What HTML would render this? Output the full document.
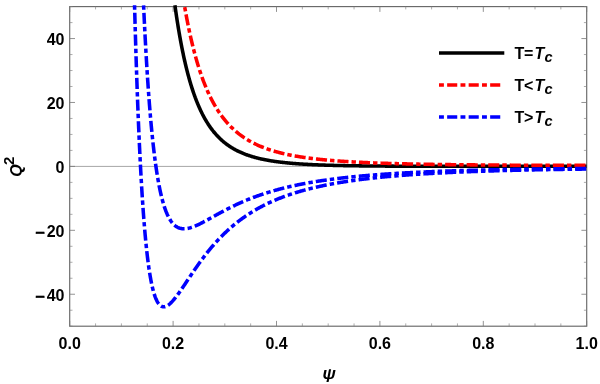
<!DOCTYPE html>
<html><head><meta charset="utf-8"><title>Q2 vs psi</title>
<style>
html,body{margin:0;padding:0;background:#fff;}
body{width:600px;height:384px;overflow:hidden;font-family:"Liberation Sans",sans-serif;}
svg{display:block;will-change:transform;}
text{font-family:"Liberation Sans",sans-serif;font-weight:bold;font-size:16px;fill:#000;}
.i{font-style:italic;}
</style></head><body>
<svg width="600" height="384" viewBox="0 0 600 384">
<rect width="600" height="384" fill="#fff"/>
<defs><clipPath id="cp"><rect x="69.7" y="5.0" width="517.0" height="321.2"/></clipPath><clipPath id="pc"><rect x="315" y="369.2" width="30" height="15"/></clipPath></defs>
<path d="M69.70,166.40L586.70,166.40" stroke="#a6a6a6" stroke-width="1" fill="none"/>
<g fill="none" stroke="#686868" stroke-width="1.15"><rect x="69.7" y="6.6" width="517.0" height="319.59999999999997"/></g>
<path d="M69.70,326.20L69.70,320.90M69.70,6.60L69.70,11.90M173.10,326.20L173.10,320.90M173.10,6.60L173.10,11.90M276.50,326.20L276.50,320.90M276.50,6.60L276.50,11.90M379.90,326.20L379.90,320.90M379.90,6.60L379.90,11.90M483.30,326.20L483.30,320.90M483.30,6.60L483.30,11.90M586.70,326.20L586.70,320.90M586.70,6.60L586.70,11.90M69.70,294.24L75.00,294.24M586.70,294.24L581.40,294.24M69.70,230.32L75.00,230.32M586.70,230.32L581.40,230.32M69.70,166.40L75.00,166.40M586.70,166.40L581.40,166.40M69.70,102.48L75.00,102.48M586.70,102.48L581.40,102.48M69.70,38.56L75.00,38.56M586.70,38.56L581.40,38.56" stroke="#777" stroke-width="0.8" fill="none"/>
<path d="M95.55,326.20L95.55,323.40M95.55,6.60L95.55,9.40M121.40,326.20L121.40,323.40M121.40,6.60L121.40,9.40M147.25,326.20L147.25,323.40M147.25,6.60L147.25,9.40M198.95,326.20L198.95,323.40M198.95,6.60L198.95,9.40M224.80,326.20L224.80,323.40M224.80,6.60L224.80,9.40M250.65,326.20L250.65,323.40M250.65,6.60L250.65,9.40M302.35,326.20L302.35,323.40M302.35,6.60L302.35,9.40M328.20,326.20L328.20,323.40M328.20,6.60L328.20,9.40M354.05,326.20L354.05,323.40M354.05,6.60L354.05,9.40M405.75,326.20L405.75,323.40M405.75,6.60L405.75,9.40M431.60,326.20L431.60,323.40M431.60,6.60L431.60,9.40M457.45,326.20L457.45,323.40M457.45,6.60L457.45,9.40M509.15,326.20L509.15,323.40M509.15,6.60L509.15,9.40M535.00,326.20L535.00,323.40M535.00,6.60L535.00,9.40M560.85,326.20L560.85,323.40M560.85,6.60L560.85,9.40M69.70,326.20L72.50,326.20M586.70,326.20L583.90,326.20M69.70,310.22L72.50,310.22M586.70,310.22L583.90,310.22M69.70,278.26L72.50,278.26M586.70,278.26L583.90,278.26M69.70,262.28L72.50,262.28M586.70,262.28L583.90,262.28M69.70,246.30L72.50,246.30M586.70,246.30L583.90,246.30M69.70,214.34L72.50,214.34M586.70,214.34L583.90,214.34M69.70,198.36L72.50,198.36M586.70,198.36L583.90,198.36M69.70,182.38L72.50,182.38M586.70,182.38L583.90,182.38M69.70,150.42L72.50,150.42M586.70,150.42L583.90,150.42M69.70,134.44L72.50,134.44M586.70,134.44L583.90,134.44M69.70,118.46L72.50,118.46M586.70,118.46L583.90,118.46M69.70,86.50L72.50,86.50M586.70,86.50L583.90,86.50M69.70,70.52L72.50,70.52M586.70,70.52L583.90,70.52M69.70,54.54L72.50,54.54M586.70,54.54L583.90,54.54M69.70,22.58L72.50,22.58M586.70,22.58L583.90,22.58M69.70,6.60L72.50,6.60M586.70,6.60L583.90,6.60" stroke="#808080" stroke-width="0.65" fill="none"/>
<g clip-path="url(#cp)" fill="none" stroke-width="3.55" stroke-linejoin="round">
<path d="M174.92,5.32 L175.05,6.23 L175.21,7.41 L175.38,8.57 L175.54,9.72 L175.70,10.86 L175.87,11.99 L176.03,13.11 L176.19,14.22 L176.36,15.33 L176.52,16.42 L176.69,17.50 L176.85,18.58 L177.01,19.64 L177.18,20.70 L177.34,21.75 L177.50,22.79 L177.67,23.82 L177.83,24.84 L178.00,25.86 L178.16,26.86 L178.32,27.86 L178.49,28.85 L178.65,29.83 L178.81,30.80 L178.98,31.76 L179.14,32.72 L179.31,33.67 L179.47,34.61 L179.63,35.54 L179.80,36.46 L179.96,37.38 L180.12,38.29 L180.29,39.19 L180.45,40.09 L180.61,40.97 L180.78,41.85 L180.94,42.73 L181.11,43.59 L181.27,44.45 L181.43,45.30 L181.60,46.15 L181.76,46.99 L181.92,47.82 L182.09,48.64 L182.25,49.46 L182.42,50.27 L182.58,51.08 L182.74,51.88 L182.91,52.67 L183.07,53.45 L183.23,54.23 L183.40,55.01 L183.56,55.77 L183.73,56.53 L183.89,57.29 L184.05,58.04 L184.22,58.78 L184.38,59.52 L184.54,60.25 L184.71,60.97 L184.87,61.69 L185.04,62.41 L185.20,63.11 L185.36,63.82 L185.53,64.51 L185.69,65.21 L185.85,65.89 L186.02,66.57 L186.18,67.25 L186.35,67.92 L186.51,68.58 L186.67,69.24 L186.84,69.90 L187.00,70.55 L187.16,71.19 L187.33,71.83 L187.49,72.46 L187.66,73.09 L187.82,73.72 L187.98,74.34 L188.15,74.95 L188.31,75.56 L188.47,76.17 L188.64,76.77 L188.80,77.36 L188.97,77.96 L189.13,78.54 L189.29,79.13 L189.46,79.70 L189.70,80.56 L189.95,81.41 L190.19,82.25 L190.44,83.08 L190.69,83.90 L190.93,84.71 L191.18,85.51 L191.42,86.31 L191.67,87.09 L191.91,87.86 L192.16,88.63 L192.40,89.39 L192.65,90.14 L192.90,90.88 L193.14,91.61 L193.39,92.33 L193.63,93.05 L193.88,93.76 L194.12,94.46 L194.37,95.15 L194.62,95.84 L194.86,96.51 L195.11,97.18 L195.35,97.85 L195.60,98.50 L195.84,99.15 L196.09,99.79 L196.33,100.42 L196.58,101.05 L196.83,101.67 L197.07,102.28 L197.32,102.89 L197.56,103.49 L197.81,104.08 L198.05,104.67 L198.30,105.25 L198.54,105.83 L198.79,106.39 L199.04,106.96 L199.28,107.51 L199.53,108.06 L199.85,108.79 L200.18,109.50 L200.51,110.21 L200.84,110.90 L201.16,111.58 L201.49,112.26 L201.82,112.92 L202.15,113.58 L202.47,114.23 L202.80,114.86 L203.13,115.49 L203.46,116.11 L203.78,116.72 L204.11,117.33 L204.44,117.92 L204.77,118.51 L205.09,119.09 L205.42,119.66 L205.75,120.22 L206.08,120.77 L206.40,121.32 L206.73,121.86 L207.06,122.39 L207.39,122.92 L207.71,123.43 L208.04,123.94 L208.37,124.45 L208.78,125.07 L209.19,125.68 L209.60,126.28 L210.01,126.87 L210.42,127.45 L210.83,128.02 L211.24,128.58 L211.64,129.13 L212.05,129.67 L212.46,130.21 L212.87,130.73 L213.28,131.25 L213.69,131.75 L214.10,132.25 L214.51,132.74 L214.92,133.23 L215.33,133.70 L215.74,134.17 L216.15,134.63 L216.56,135.08 L216.97,135.53 L217.46,136.05 L217.95,136.57 L218.44,137.07 L218.93,137.57 L219.42,138.05 L219.91,138.53 L220.40,139.00 L220.90,139.46 L221.39,139.91 L221.88,140.35 L222.37,140.78 L222.86,141.21 L223.35,141.63 L223.84,142.04 L224.33,142.44 L224.83,142.83 L225.32,143.22 L225.81,143.60 L226.30,143.97 L226.79,144.34 L227.28,144.70 L227.77,145.05 L228.26,145.40 L228.84,145.80 L229.41,146.18 L229.98,146.56 L230.56,146.94 L231.13,147.30 L231.70,147.66 L232.28,148.01 L232.85,148.35 L233.42,148.68 L234.00,149.01 L234.57,149.33 L235.14,149.65 L235.71,149.95 L236.29,150.26 L236.86,150.55 L237.43,150.84 L238.01,151.13 L238.58,151.40 L239.15,151.68 L239.73,151.94 L240.30,152.20 L240.87,152.46 L241.45,152.71 L242.02,152.96 L242.59,153.20 L243.17,153.44 L243.74,153.67 L244.31,153.90 L244.88,154.12 L245.46,154.34 L246.03,154.55 L246.60,154.76 L247.18,154.97 L247.75,155.17 L248.32,155.37 L248.90,155.56 L249.47,155.75 L250.04,155.94 L250.62,156.12 L251.19,156.30 L251.84,156.50 L252.50,156.70 L253.15,156.89 L253.81,157.08 L254.46,157.26 L255.12,157.44 L255.77,157.62 L256.43,157.79 L257.08,157.96 L257.74,158.12 L258.39,158.28 L259.05,158.44 L259.70,158.60 L260.36,158.75 L261.01,158.90 L261.67,159.04 L262.32,159.18 L262.98,159.32 L263.63,159.46 L264.29,159.59 L264.94,159.72 L265.60,159.85 L266.25,159.98 L266.91,160.10 L267.56,160.22 L268.22,160.34 L268.87,160.45 L269.53,160.56 L270.18,160.67 L270.84,160.78 L271.49,160.89 L272.15,160.99 L272.80,161.09 L273.46,161.19 L274.11,161.29 L274.77,161.39 L275.42,161.48 L276.08,161.57 L276.73,161.66 L277.39,161.75 L278.04,161.84 L278.70,161.92 L279.35,162.00 L280.01,162.09 L280.66,162.17 L281.32,162.24 L281.97,162.32 L282.63,162.39 L283.28,162.47 L283.94,162.54 L284.59,162.61 L285.25,162.68 L285.90,162.75 L286.56,162.81 L287.21,162.88 L287.87,162.94 L288.52,163.01 L289.18,163.07 L289.83,163.13 L290.49,163.19 L291.14,163.25 L291.80,163.30 L292.45,163.36 L293.11,163.41 L293.76,163.47 L294.42,163.52 L295.07,163.57 L295.73,163.62 L296.38,163.67 L297.04,163.72 L297.69,163.77 L298.35,163.81 L299.00,163.86 L299.66,163.91 L300.31,163.95 L300.97,163.99 L301.62,164.04 L302.28,164.08 L302.93,164.12 L303.59,164.16 L304.24,164.20 L304.90,164.24 L305.55,164.27 L306.21,164.31 L306.86,164.35 L307.52,164.38 L308.17,164.42 L308.83,164.45 L309.48,164.49 L310.14,164.52 L310.79,164.55 L311.45,164.59 L312.10,164.62 L312.76,164.65 L313.41,164.68 L314.07,164.71 L314.72,164.74 L315.38,164.77 L316.03,164.79 L316.69,164.82 L317.34,164.85 L318.00,164.88 L318.65,164.90 L319.31,164.93 L319.96,164.95 L320.62,164.98 L321.27,165.00 L321.93,165.03 L322.58,165.05 L323.24,165.07 L323.89,165.09 L324.55,165.12 L325.20,165.14 L325.86,165.16 L326.51,165.18 L327.17,165.20 L327.82,165.22 L328.48,165.24 L329.13,165.26 L329.79,165.28 L330.44,165.30 L331.10,165.32 L331.75,165.33 L332.41,165.35 L333.06,165.37 L333.72,165.39 L334.37,165.40 L335.03,165.42 L335.68,165.44 L336.34,165.45 L336.99,165.47 L337.65,165.48 L338.30,165.50 L338.96,165.51 L339.61,165.53 L340.27,165.54 L340.92,165.56 L341.58,165.57 L342.23,165.58 L342.89,165.60 L343.54,165.61 L344.20,165.62 L344.85,165.64 L345.51,165.65 L346.16,165.66 L346.82,165.67 L347.47,165.68 L348.13,165.70 L348.78,165.71 L349.44,165.72 L350.09,165.73 L350.74,165.74 L351.40,165.75 L352.05,165.76 L352.71,165.77 L353.36,165.78 L354.02,165.79 L354.67,165.80 L355.33,165.81 L355.98,165.82 L356.64,165.83 L357.29,165.84 L357.95,165.84 L358.60,165.85 L359.26,165.86 L359.91,165.87 L360.57,165.88 L361.22,165.89 L361.88,165.89 L362.53,165.90 L363.19,165.91 L363.84,165.92 L364.50,165.92 L365.15,165.93 L365.81,165.94 L366.46,165.95 L367.12,165.95 L367.77,165.96 L368.43,165.97 L369.08,165.97 L369.74,165.98 L370.39,165.98 L371.05,165.99 L371.70,166.00 L372.36,166.00 L373.01,166.01 L373.67,166.01 L374.32,166.02 L374.98,166.03 L375.63,166.03 L376.29,166.04 L376.94,166.04 L377.60,166.05 L378.25,166.05 L378.91,166.06 L379.56,166.06 L380.22,166.07 L380.87,166.07 L381.53,166.08 L382.18,166.08 L382.84,166.08 L383.49,166.09 L384.15,166.09 L384.80,166.10 L385.46,166.10 L386.11,166.10 L386.77,166.11 L387.42,166.11 L388.08,166.12 L388.73,166.12 L389.39,166.12 L390.04,166.13 L390.70,166.13 L391.35,166.13 L392.01,166.14 L392.66,166.14 L393.32,166.14 L393.97,166.15 L394.63,166.15 L395.28,166.15 L395.94,166.16 L396.59,166.16 L397.25,166.16 L397.90,166.17 L398.56,166.17 L399.21,166.17 L399.87,166.17 L400.52,166.18 L401.18,166.18 L401.83,166.18 L402.49,166.18 L403.14,166.19 L403.80,166.19 L404.45,166.19 L405.11,166.19 L405.76,166.20 L406.42,166.20 L407.07,166.20 L407.73,166.20 L408.38,166.21 L409.04,166.21 L409.69,166.21 L410.35,166.21 L411.00,166.21 L411.66,166.22 L412.31,166.22 L412.97,166.22 L413.62,166.22 L414.28,166.22 L414.93,166.22 L415.59,166.23 L416.24,166.23 L416.90,166.23 L417.55,166.23 L418.21,166.23 L418.86,166.23 L419.52,166.24 L420.17,166.24 L420.83,166.24 L421.48,166.24 L422.14,166.24 L422.79,166.24 L423.45,166.24 L424.10,166.24 L424.76,166.25 L425.41,166.25 L426.07,166.25 L426.72,166.25 L427.38,166.25 L428.03,166.25 L428.69,166.25 L429.34,166.25 L430.00,166.26 L430.65,166.26 L431.31,166.26 L431.96,166.26 L432.62,166.26 L433.27,166.26 L433.93,166.26 L434.58,166.26 L435.24,166.26 L435.89,166.26 L436.55,166.27 L437.20,166.27 L437.86,166.27 L438.51,166.27 L439.17,166.27 L439.82,166.27 L440.48,166.27 L441.13,166.27 L441.79,166.27 L442.44,166.27 L443.10,166.27 L443.75,166.27 L444.41,166.27 L445.06,166.27 L445.72,166.28 L446.37,166.28 L447.03,166.28 L447.68,166.28 L448.34,166.28 L448.99,166.28 L449.65,166.28 L450.30,166.28 L450.96,166.28 L451.61,166.28 L452.27,166.28 L452.92,166.28 L453.58,166.28 L454.23,166.28 L454.89,166.28 L455.54,166.28 L456.20,166.28 L456.85,166.28 L457.51,166.28 L458.16,166.28 L458.82,166.28 L459.47,166.29 L460.13,166.29 L460.78,166.29 L461.44,166.29 L462.09,166.29 L462.75,166.29 L463.40,166.29 L464.06,166.29 L464.71,166.29 L465.37,166.29 L466.02,166.29 L466.68,166.29 L467.33,166.29 L467.99,166.29 L468.64,166.29 L469.30,166.29 L469.95,166.29 L470.61,166.29 L471.26,166.29 L471.92,166.29 L472.57,166.29 L473.23,166.29 L473.88,166.29 L474.54,166.29 L475.19,166.29 L475.85,166.29 L476.50,166.29 L477.16,166.29 L477.81,166.29 L478.47,166.29 L479.12,166.29 L479.78,166.29 L480.43,166.29 L481.09,166.29 L481.74,166.29 L482.40,166.29 L483.05,166.29 L483.71,166.29 L484.36,166.29 L485.02,166.29 L485.67,166.29 L486.32,166.29 L486.98,166.29 L487.63,166.29 L488.29,166.29 L488.94,166.29 L489.60,166.29 L490.25,166.29 L490.91,166.29 L491.56,166.29 L492.22,166.29 L492.87,166.29 L493.53,166.29 L494.18,166.29 L494.84,166.29 L495.49,166.29 L496.15,166.29 L496.80,166.29 L497.46,166.29 L498.11,166.29 L498.77,166.29 L499.42,166.29 L500.08,166.29 L500.73,166.29 L501.39,166.29 L502.04,166.29 L502.70,166.29 L503.35,166.29 L504.01,166.29 L504.66,166.29 L505.32,166.29 L505.97,166.29 L506.63,166.29 L507.28,166.29 L507.94,166.29 L508.59,166.29 L509.25,166.29 L509.90,166.29 L510.56,166.29 L511.21,166.29 L511.87,166.29 L512.52,166.29 L513.18,166.29 L513.83,166.29 L514.49,166.29 L515.14,166.29 L515.80,166.29 L516.45,166.29 L517.11,166.29 L517.76,166.29 L518.42,166.29 L519.07,166.29 L519.73,166.29 L520.38,166.29 L521.04,166.29 L521.69,166.29 L522.35,166.29 L523.00,166.29 L523.66,166.29 L524.31,166.29 L524.97,166.29 L525.62,166.29 L526.28,166.29 L526.93,166.29 L527.59,166.29 L528.24,166.29 L528.90,166.29 L529.55,166.29 L530.21,166.29 L530.86,166.29 L531.52,166.29 L532.17,166.29 L532.83,166.29 L533.48,166.29 L534.14,166.29 L534.79,166.29 L535.45,166.29 L536.10,166.29 L536.76,166.29 L537.41,166.29 L538.07,166.29 L538.72,166.29 L539.38,166.29 L540.03,166.29 L540.69,166.29 L541.34,166.29 L542.00,166.29 L542.65,166.28 L543.31,166.28 L543.96,166.28 L544.62,166.28 L545.27,166.28 L545.93,166.28 L546.58,166.28 L547.24,166.28 L547.89,166.28 L548.55,166.28 L549.20,166.28 L549.86,166.28 L550.51,166.28 L551.17,166.28 L551.82,166.28 L552.48,166.28 L553.13,166.28 L553.79,166.28 L554.44,166.28 L555.10,166.28 L555.75,166.28 L556.41,166.28 L557.06,166.28 L557.72,166.28 L558.37,166.28 L559.03,166.28 L559.68,166.28 L560.34,166.28 L560.99,166.28 L561.65,166.28 L562.30,166.28 L562.96,166.28 L563.61,166.28 L564.27,166.28 L564.92,166.28 L565.58,166.28 L566.23,166.28 L566.89,166.28 L567.54,166.28 L568.20,166.28 L568.85,166.28 L569.51,166.28 L570.16,166.28 L570.82,166.28 L571.47,166.28 L572.13,166.28 L572.78,166.28 L573.44,166.28 L574.09,166.28 L574.75,166.28 L575.40,166.28 L576.06,166.28 L576.71,166.28 L577.37,166.28 L578.02,166.28 L578.68,166.28 L579.33,166.28 L579.99,166.28 L580.64,166.28 L581.30,166.28 L581.95,166.28 L582.61,166.28 L583.26,166.28 L583.92,166.28 L584.57,166.28 L585.23,166.28 L585.88,166.28 L586.54,166.28 L586.70,166.28" stroke="#000"/>
<path d="M184.41,5.32 L184.54,6.12 L184.71,7.07 L184.87,8.00 L185.04,8.93 L185.20,9.86 L185.36,10.77 L185.53,11.68 L185.69,12.59 L185.85,13.48 L186.02,14.37 L186.18,15.26 L186.35,16.13 L186.51,17.00 L186.67,17.87 L186.84,18.73 L187.00,19.58 L187.16,20.43 L187.33,21.27 L187.49,22.10 L187.66,22.93 L187.82,23.75 L187.98,24.57 L188.15,25.38 L188.31,26.18 L188.47,26.98 L188.64,27.77 L188.80,28.56 L188.97,29.34 L189.13,30.12 L189.29,30.89 L189.46,31.66 L189.62,32.42 L189.78,33.17 L189.95,33.92 L190.11,34.67 L190.28,35.40 L190.44,36.14 L190.60,36.87 L190.77,37.59 L190.93,38.31 L191.09,39.02 L191.26,39.73 L191.42,40.44 L191.59,41.14 L191.75,41.83 L191.91,42.52 L192.08,43.20 L192.24,43.88 L192.40,44.56 L192.57,45.23 L192.73,45.90 L192.90,46.56 L193.06,47.21 L193.22,47.87 L193.39,48.52 L193.55,49.16 L193.71,49.80 L193.88,50.43 L194.04,51.06 L194.21,51.69 L194.37,52.31 L194.53,52.93 L194.70,53.54 L194.86,54.15 L195.02,54.76 L195.19,55.36 L195.35,55.96 L195.52,56.55 L195.68,57.14 L195.84,57.73 L196.01,58.31 L196.17,58.88 L196.42,59.74 L196.66,60.59 L196.91,61.44 L197.15,62.27 L197.40,63.10 L197.64,63.91 L197.89,64.72 L198.14,65.52 L198.38,66.32 L198.63,67.10 L198.87,67.88 L199.12,68.65 L199.36,69.41 L199.61,70.17 L199.85,70.92 L200.10,71.66 L200.35,72.39 L200.59,73.12 L200.84,73.84 L201.08,74.55 L201.33,75.26 L201.57,75.96 L201.82,76.65 L202.07,77.34 L202.31,78.01 L202.56,78.69 L202.80,79.35 L203.05,80.01 L203.29,80.67 L203.54,81.31 L203.78,81.96 L204.03,82.59 L204.28,83.22 L204.52,83.84 L204.77,84.46 L205.01,85.07 L205.26,85.68 L205.50,86.28 L205.75,86.88 L206.00,87.47 L206.24,88.05 L206.49,88.63 L206.73,89.20 L206.98,89.77 L207.22,90.33 L207.47,90.89 L207.71,91.44 L208.04,92.17 L208.37,92.89 L208.70,93.60 L209.02,94.30 L209.35,95.00 L209.68,95.68 L210.01,96.36 L210.33,97.03 L210.66,97.69 L210.99,98.34 L211.32,98.99 L211.64,99.63 L211.97,100.26 L212.30,100.88 L212.63,101.50 L212.95,102.10 L213.28,102.71 L213.61,103.30 L213.94,103.89 L214.26,104.47 L214.59,105.04 L214.92,105.61 L215.25,106.17 L215.57,106.72 L215.90,107.27 L216.23,107.81 L216.56,108.35 L216.88,108.87 L217.21,109.40 L217.54,109.91 L217.87,110.42 L218.19,110.93 L218.60,111.55 L219.01,112.17 L219.42,112.77 L219.83,113.37 L220.24,113.96 L220.65,114.54 L221.06,115.11 L221.47,115.68 L221.88,116.23 L222.29,116.78 L222.70,117.33 L223.11,117.86 L223.52,118.39 L223.93,118.91 L224.33,119.42 L224.74,119.92 L225.15,120.42 L225.56,120.91 L225.97,121.40 L226.38,121.88 L226.79,122.35 L227.20,122.82 L227.61,123.28 L228.02,123.73 L228.43,124.18 L228.84,124.62 L229.33,125.14 L229.82,125.66 L230.31,126.16 L230.80,126.66 L231.29,127.15 L231.78,127.63 L232.28,128.11 L232.77,128.58 L233.26,129.04 L233.75,129.49 L234.24,129.94 L234.73,130.38 L235.22,130.81 L235.71,131.24 L236.21,131.66 L236.70,132.07 L237.19,132.48 L237.68,132.88 L238.17,133.27 L238.66,133.66 L239.15,134.05 L239.64,134.42 L240.14,134.80 L240.63,135.16 L241.12,135.52 L241.61,135.88 L242.10,136.23 L242.59,136.58 L243.17,136.97 L243.74,137.36 L244.31,137.75 L244.88,138.12 L245.46,138.49 L246.03,138.86 L246.60,139.22 L247.18,139.57 L247.75,139.92 L248.32,140.26 L248.90,140.59 L249.47,140.92 L250.04,141.25 L250.62,141.57 L251.19,141.88 L251.76,142.19 L252.33,142.49 L252.91,142.79 L253.48,143.09 L254.05,143.38 L254.63,143.66 L255.20,143.94 L255.77,144.22 L256.35,144.49 L256.92,144.76 L257.49,145.02 L258.07,145.28 L258.64,145.53 L259.21,145.78 L259.79,146.03 L260.36,146.28 L260.93,146.51 L261.50,146.75 L262.08,146.98 L262.65,147.21 L263.22,147.44 L263.80,147.66 L264.37,147.88 L264.94,148.09 L265.52,148.31 L266.09,148.51 L266.66,148.72 L267.24,148.92 L267.81,149.12 L268.38,149.32 L268.95,149.51 L269.53,149.70 L270.10,149.89 L270.67,150.08 L271.25,150.26 L271.82,150.44 L272.48,150.64 L273.13,150.84 L273.79,151.04 L274.44,151.23 L275.10,151.42 L275.75,151.61 L276.41,151.79 L277.06,151.97 L277.72,152.15 L278.37,152.32 L279.03,152.49 L279.68,152.66 L280.34,152.83 L280.99,152.99 L281.65,153.16 L282.30,153.31 L282.95,153.47 L283.61,153.62 L284.26,153.78 L284.92,153.92 L285.57,154.07 L286.23,154.22 L286.88,154.36 L287.54,154.50 L288.19,154.64 L288.85,154.77 L289.50,154.90 L290.16,155.04 L290.81,155.17 L291.47,155.29 L292.12,155.42 L292.78,155.54 L293.43,155.67 L294.09,155.79 L294.74,155.90 L295.40,156.02 L296.05,156.14 L296.71,156.25 L297.36,156.36 L298.02,156.47 L298.67,156.58 L299.33,156.69 L299.98,156.79 L300.64,156.90 L301.29,157.00 L301.95,157.10 L302.60,157.20 L303.26,157.30 L303.91,157.39 L304.57,157.49 L305.22,157.58 L305.88,157.67 L306.53,157.76 L307.19,157.85 L307.84,157.94 L308.50,158.03 L309.15,158.12 L309.81,158.20 L310.46,158.29 L311.12,158.37 L311.77,158.45 L312.43,158.53 L313.08,158.61 L313.74,158.69 L314.39,158.76 L315.05,158.84 L315.70,158.92 L316.36,158.99 L317.01,159.06 L317.67,159.13 L318.32,159.21 L318.98,159.28 L319.63,159.35 L320.29,159.41 L320.94,159.48 L321.60,159.55 L322.25,159.61 L322.91,159.68 L323.56,159.74 L324.22,159.81 L324.87,159.87 L325.53,159.93 L326.18,159.99 L326.84,160.05 L327.49,160.11 L328.15,160.17 L328.80,160.22 L329.46,160.28 L330.11,160.34 L330.77,160.39 L331.42,160.45 L332.08,160.50 L332.73,160.56 L333.39,160.61 L334.04,160.66 L334.70,160.71 L335.35,160.76 L336.01,160.81 L336.66,160.86 L337.32,160.91 L337.97,160.96 L338.63,161.01 L339.28,161.05 L339.94,161.10 L340.59,161.15 L341.25,161.19 L341.90,161.24 L342.56,161.28 L343.21,161.32 L343.87,161.37 L344.52,161.41 L345.18,161.45 L345.83,161.49 L346.49,161.54 L347.14,161.58 L347.80,161.62 L348.45,161.66 L349.11,161.70 L349.76,161.73 L350.42,161.77 L351.07,161.81 L351.73,161.85 L352.38,161.89 L353.04,161.92 L353.69,161.96 L354.35,161.99 L355.00,162.03 L355.66,162.06 L356.31,162.10 L356.97,162.13 L357.62,162.17 L358.28,162.20 L358.93,162.23 L359.59,162.27 L360.24,162.30 L360.90,162.33 L361.55,162.36 L362.21,162.39 L362.86,162.42 L363.52,162.45 L364.17,162.48 L364.83,162.51 L365.48,162.54 L366.14,162.57 L366.79,162.60 L367.45,162.63 L368.10,162.66 L368.76,162.69 L369.41,162.71 L370.07,162.74 L370.72,162.77 L371.38,162.79 L372.03,162.82 L372.69,162.85 L373.34,162.87 L374.00,162.90 L374.65,162.92 L375.31,162.95 L375.96,162.97 L376.62,163.00 L377.27,163.02 L377.93,163.04 L378.58,163.07 L379.24,163.09 L379.89,163.12 L380.55,163.14 L381.20,163.16 L381.86,163.18 L382.51,163.21 L383.17,163.23 L383.82,163.25 L384.48,163.27 L385.13,163.29 L385.79,163.31 L386.44,163.33 L387.10,163.35 L387.75,163.37 L388.41,163.40 L389.06,163.42 L389.72,163.44 L390.37,163.45 L391.03,163.47 L391.68,163.49 L392.34,163.51 L392.99,163.53 L393.65,163.55 L394.30,163.57 L394.96,163.59 L395.61,163.60 L396.27,163.62 L396.92,163.64 L397.58,163.66 L398.23,163.67 L398.89,163.69 L399.54,163.71 L400.20,163.73 L400.85,163.74 L401.51,163.76 L402.16,163.78 L402.82,163.79 L403.47,163.81 L404.13,163.82 L404.78,163.84 L405.44,163.85 L406.09,163.87 L406.75,163.89 L407.40,163.90 L408.06,163.92 L408.71,163.93 L409.37,163.95 L410.02,163.96 L410.68,163.97 L411.33,163.99 L411.99,164.00 L412.64,164.02 L413.30,164.03 L413.95,164.04 L414.61,164.06 L415.26,164.07 L415.92,164.08 L416.57,164.10 L417.23,164.11 L417.88,164.12 L418.53,164.14 L419.19,164.15 L419.84,164.16 L420.50,164.17 L421.15,164.19 L421.81,164.20 L422.46,164.21 L423.12,164.22 L423.77,164.23 L424.43,164.25 L425.08,164.26 L425.74,164.27 L426.39,164.28 L427.05,164.29 L427.70,164.30 L428.36,164.31 L429.01,164.33 L429.67,164.34 L430.32,164.35 L430.98,164.36 L431.63,164.37 L432.29,164.38 L432.94,164.39 L433.60,164.40 L434.25,164.41 L434.91,164.42 L435.56,164.43 L436.22,164.44 L436.87,164.45 L437.53,164.46 L438.18,164.47 L438.84,164.48 L439.49,164.49 L440.15,164.50 L440.80,164.51 L441.46,164.52 L442.11,164.53 L442.77,164.54 L443.42,164.54 L444.08,164.55 L444.73,164.56 L445.39,164.57 L446.04,164.58 L446.70,164.59 L447.35,164.60 L448.01,164.61 L448.66,164.61 L449.32,164.62 L449.97,164.63 L450.63,164.64 L451.28,164.65 L451.94,164.65 L452.59,164.66 L453.25,164.67 L453.90,164.68 L454.56,164.69 L455.21,164.69 L455.87,164.70 L456.52,164.71 L457.18,164.72 L457.83,164.72 L458.49,164.73 L459.14,164.74 L459.80,164.75 L460.45,164.75 L461.11,164.76 L461.76,164.77 L462.42,164.77 L463.07,164.78 L463.73,164.79 L464.38,164.79 L465.04,164.80 L465.69,164.81 L466.35,164.81 L467.00,164.82 L467.66,164.83 L468.31,164.83 L468.97,164.84 L469.62,164.85 L470.28,164.85 L470.93,164.86 L471.59,164.86 L472.24,164.87 L472.90,164.88 L473.55,164.88 L474.21,164.89 L474.86,164.89 L475.52,164.90 L476.17,164.91 L476.83,164.91 L477.48,164.92 L478.14,164.92 L478.79,164.93 L479.45,164.93 L480.10,164.94 L480.76,164.94 L481.41,164.95 L482.07,164.96 L482.72,164.96 L483.38,164.97 L484.03,164.97 L484.69,164.98 L485.34,164.98 L486.00,164.99 L486.65,164.99 L487.31,165.00 L487.96,165.00 L488.62,165.01 L489.27,165.01 L489.93,165.02 L490.58,165.02 L491.24,165.03 L491.89,165.03 L492.55,165.03 L493.20,165.04 L493.86,165.04 L494.51,165.05 L495.17,165.05 L495.82,165.06 L496.48,165.06 L497.13,165.07 L497.79,165.07 L498.44,165.07 L499.10,165.08 L499.75,165.08 L500.41,165.09 L501.06,165.09 L501.72,165.10 L502.37,165.10 L503.03,165.10 L503.68,165.11 L504.34,165.11 L504.99,165.11 L505.65,165.12 L506.30,165.12 L506.96,165.13 L507.61,165.13 L508.27,165.13 L508.92,165.14 L509.58,165.14 L510.23,165.14 L510.89,165.15 L511.54,165.15 L512.20,165.16 L512.85,165.16 L513.51,165.16 L514.16,165.17 L514.82,165.17 L515.47,165.17 L516.13,165.18 L516.78,165.18 L517.44,165.18 L518.09,165.19 L518.75,165.19 L519.40,165.19 L520.06,165.19 L520.71,165.20 L521.37,165.20 L522.02,165.20 L522.68,165.21 L523.33,165.21 L523.99,165.21 L524.64,165.22 L525.30,165.22 L525.95,165.22 L526.61,165.22 L527.26,165.23 L527.92,165.23 L528.57,165.23 L529.23,165.24 L529.88,165.24 L530.54,165.24 L531.19,165.24 L531.85,165.25 L532.50,165.25 L533.16,165.25 L533.81,165.25 L534.47,165.26 L535.12,165.26 L535.78,165.26 L536.43,165.26 L537.09,165.27 L537.74,165.27 L538.40,165.27 L539.05,165.27 L539.71,165.28 L540.36,165.28 L541.02,165.28 L541.67,165.28 L542.33,165.28 L542.98,165.29 L543.64,165.29 L544.29,165.29 L544.95,165.29 L545.60,165.30 L546.26,165.30 L546.91,165.30 L547.57,165.30 L548.22,165.30 L548.88,165.31 L549.53,165.31 L550.19,165.31 L550.84,165.31 L551.50,165.31 L552.15,165.31 L552.81,165.32 L553.46,165.32 L554.11,165.32 L554.77,165.32 L555.42,165.32 L556.08,165.33 L556.73,165.33 L557.39,165.33 L558.04,165.33 L558.70,165.33 L559.35,165.33 L560.01,165.34 L560.66,165.34 L561.32,165.34 L561.97,165.34 L562.63,165.34 L563.28,165.34 L563.94,165.34 L564.59,165.35 L565.25,165.35 L565.90,165.35 L566.56,165.35 L567.21,165.35 L567.87,165.35 L568.52,165.35 L569.18,165.36 L569.83,165.36 L570.49,165.36 L571.14,165.36 L571.80,165.36 L572.45,165.36 L573.11,165.36 L573.76,165.36 L574.42,165.37 L575.07,165.37 L575.73,165.37 L576.38,165.37 L577.04,165.37 L577.69,165.37 L578.35,165.37 L579.00,165.37 L579.66,165.37 L580.31,165.37 L580.97,165.38 L581.62,165.38 L582.28,165.38 L582.93,165.38 L583.59,165.38 L584.24,165.38 L584.90,165.38 L585.55,165.38 L586.21,165.38 L586.70,165.38" stroke="#ff0000" stroke-dasharray="4.4 3.025 11.1 3.025" stroke-dashoffset="-1.8"/>
<path d="M134.56,5.32 L134.60,7.09 L134.68,10.10 L134.77,13.08 L134.85,16.03 L134.93,18.96 L135.01,21.86 L135.09,24.73 L135.18,27.58 L135.26,30.40 L135.34,33.20 L135.42,35.97 L135.50,38.72 L135.59,41.44 L135.67,44.13 L135.75,46.80 L135.83,49.45 L135.91,52.07 L135.99,54.67 L136.08,57.25 L136.16,59.80 L136.24,62.33 L136.32,64.83 L136.40,67.31 L136.49,69.77 L136.57,72.21 L136.65,74.63 L136.73,77.02 L136.81,79.39 L136.90,81.74 L136.98,84.07 L137.06,86.37 L137.14,88.66 L137.22,90.93 L137.30,93.17 L137.39,95.39 L137.47,97.60 L137.55,99.78 L137.63,101.94 L137.71,104.09 L137.80,106.21 L137.88,108.32 L137.96,110.40 L138.04,112.47 L138.12,114.51 L138.21,116.54 L138.29,118.55 L138.37,120.54 L138.45,122.52 L138.53,124.47 L138.61,126.41 L138.70,128.33 L138.78,130.23 L138.86,132.12 L138.94,133.98 L139.02,135.83 L139.11,137.67 L139.19,139.48 L139.27,141.28 L139.35,143.06 L139.43,144.83 L139.52,146.58 L139.60,148.31 L139.68,150.03 L139.76,151.73 L139.84,153.42 L139.92,155.09 L140.01,156.74 L140.09,158.38 L140.17,160.01 L140.25,161.62 L140.33,163.21 L140.42,164.79 L140.50,166.36 L140.58,167.91 L140.66,169.44 L140.74,170.97 L140.83,172.47 L140.91,173.97 L140.99,175.45 L141.07,176.91 L141.15,178.36 L141.23,179.80 L141.32,181.23 L141.40,182.64 L141.48,184.04 L141.56,185.42 L141.64,186.80 L141.73,188.16 L141.81,189.50 L141.89,190.84 L141.97,192.16 L142.05,193.47 L142.14,194.77 L142.22,196.05 L142.30,197.32 L142.38,198.58 L142.46,199.83 L142.54,201.07 L142.63,202.30 L142.71,203.51 L142.79,204.71 L142.87,205.90 L142.95,207.08 L143.04,208.25 L143.12,209.41 L143.20,210.55 L143.28,211.69 L143.36,212.81 L143.45,213.93 L143.53,215.03 L143.61,216.12 L143.69,217.20 L143.77,218.27 L143.85,219.34 L143.94,220.39 L144.02,221.43 L144.10,222.46 L144.18,223.48 L144.26,224.49 L144.35,225.49 L144.43,226.48 L144.51,227.47 L144.59,228.44 L144.67,229.40 L144.76,230.35 L144.84,231.30 L144.92,232.23 L145.00,233.16 L145.08,234.08 L145.16,234.98 L145.25,235.88 L145.33,236.77 L145.41,237.65 L145.49,238.53 L145.57,239.39 L145.66,240.25 L145.74,241.09 L145.82,241.93 L145.90,242.76 L145.98,243.59 L146.07,244.40 L146.15,245.20 L146.23,246.00 L146.31,246.79 L146.39,247.57 L146.47,248.35 L146.56,249.11 L146.64,249.87 L146.72,250.62 L146.80,251.37 L146.88,252.10 L146.97,252.83 L147.05,253.55 L147.13,254.27 L147.21,254.97 L147.29,255.67 L147.37,256.36 L147.46,257.05 L147.54,257.73 L147.62,258.40 L147.70,259.06 L147.78,259.72 L147.87,260.37 L147.95,261.01 L148.03,261.65 L148.11,262.28 L148.19,262.90 L148.28,263.52 L148.36,264.13 L148.44,264.73 L148.52,265.33 L148.68,266.51 L148.85,267.66 L149.01,268.79 L149.18,269.89 L149.34,270.97 L149.50,272.03 L149.67,273.06 L149.83,274.08 L149.99,275.07 L150.16,276.03 L150.32,276.98 L150.49,277.91 L150.65,278.81 L150.81,279.70 L150.98,280.56 L151.14,281.41 L151.30,282.23 L151.47,283.04 L151.63,283.83 L151.80,284.60 L151.96,285.35 L152.12,286.08 L152.29,286.80 L152.45,287.50 L152.61,288.18 L152.78,288.85 L152.94,289.49 L153.11,290.13 L153.27,290.75 L153.43,291.35 L153.60,291.93 L153.84,292.79 L154.09,293.61 L154.33,294.39 L154.58,295.15 L154.83,295.87 L155.07,296.57 L155.32,297.23 L155.56,297.87 L155.81,298.48 L156.05,299.06 L156.30,299.62 L156.63,300.32 L156.95,300.98 L157.28,301.59 L157.61,302.17 L157.94,302.70 L158.35,303.31 L158.76,303.87 L159.16,304.37 L159.57,304.82 L160.07,305.28 L160.56,305.68 L161.13,306.06 L161.70,306.36 L162.28,306.58 L162.93,306.73 L163.59,306.80 L164.24,306.77 L164.90,306.67 L165.55,306.49 L166.12,306.28 L166.70,306.02 L167.27,305.71 L167.84,305.36 L168.42,304.97 L168.91,304.60 L169.40,304.20 L169.89,303.78 L170.38,303.34 L170.87,302.87 L171.36,302.39 L171.85,301.88 L172.35,301.35 L172.76,300.90 L173.16,300.44 L173.57,299.96 L173.98,299.48 L174.39,298.98 L174.80,298.48 L175.21,297.97 L175.62,297.45 L176.03,296.92 L176.44,296.38 L176.85,295.84 L177.26,295.29 L177.67,294.73 L178.08,294.17 L178.49,293.60 L178.90,293.03 L179.31,292.45 L179.71,291.87 L180.12,291.28 L180.53,290.69 L180.94,290.10 L181.35,289.51 L181.76,288.91 L182.17,288.31 L182.58,287.70 L182.99,287.10 L183.40,286.49 L183.81,285.88 L184.22,285.27 L184.63,284.66 L185.04,284.04 L185.45,283.43 L185.85,282.82 L186.26,282.20 L186.67,281.59 L187.08,280.97 L187.49,280.36 L187.90,279.74 L188.31,279.13 L188.72,278.51 L189.13,277.90 L189.54,277.29 L189.95,276.67 L190.36,276.06 L190.77,275.45 L191.18,274.84 L191.59,274.24 L192.00,273.63 L192.40,273.03 L192.81,272.42 L193.22,271.82 L193.63,271.22 L194.04,270.62 L194.45,270.03 L194.86,269.43 L195.27,268.84 L195.68,268.25 L196.09,267.66 L196.50,267.07 L196.91,266.49 L197.32,265.91 L197.73,265.33 L198.14,264.75 L198.54,264.18 L198.95,263.60 L199.36,263.04 L199.77,262.47 L200.18,261.90 L200.59,261.34 L201.00,260.78 L201.41,260.22 L201.82,259.67 L202.23,259.12 L202.64,258.57 L203.05,258.02 L203.46,257.48 L203.87,256.94 L204.28,256.40 L204.69,255.87 L205.09,255.34 L205.50,254.81 L205.91,254.28 L206.32,253.76 L206.73,253.24 L207.14,252.72 L207.55,252.21 L207.96,251.69 L208.37,251.18 L208.78,250.68 L209.19,250.17 L209.60,249.67 L210.01,249.18 L210.42,248.68 L210.83,248.19 L211.24,247.70 L211.64,247.22 L212.05,246.73 L212.46,246.25 L212.87,245.78 L213.28,245.30 L213.69,244.83 L214.10,244.36 L214.51,243.90 L214.92,243.44 L215.33,242.98 L215.74,242.52 L216.15,242.07 L216.56,241.62 L216.97,241.17 L217.38,240.72 L217.78,240.28 L218.19,239.84 L218.69,239.32 L219.18,238.80 L219.67,238.28 L220.16,237.77 L220.65,237.26 L221.14,236.76 L221.63,236.26 L222.12,235.76 L222.62,235.27 L223.11,234.78 L223.60,234.29 L224.09,233.81 L224.58,233.34 L225.07,232.86 L225.56,232.39 L226.05,231.93 L226.55,231.47 L227.04,231.01 L227.53,230.55 L228.02,230.10 L228.51,229.65 L229.00,229.21 L229.49,228.77 L229.98,228.33 L230.48,227.90 L230.97,227.47 L231.46,227.04 L231.95,226.62 L232.44,226.20 L232.93,225.79 L233.42,225.37 L233.91,224.96 L234.40,224.56 L234.90,224.16 L235.39,223.76 L235.88,223.36 L236.37,222.97 L236.86,222.58 L237.35,222.19 L237.84,221.81 L238.33,221.43 L238.83,221.05 L239.32,220.67 L239.81,220.30 L240.30,219.94 L240.79,219.57 L241.28,219.21 L241.77,218.85 L242.26,218.49 L242.76,218.14 L243.25,217.79 L243.74,217.44 L244.23,217.10 L244.80,216.70 L245.38,216.30 L245.95,215.91 L246.52,215.52 L247.10,215.14 L247.67,214.76 L248.24,214.38 L248.81,214.01 L249.39,213.64 L249.96,213.27 L250.53,212.91 L251.11,212.55 L251.68,212.19 L252.25,211.84 L252.83,211.49 L253.40,211.14 L253.97,210.80 L254.55,210.46 L255.12,210.12 L255.69,209.79 L256.26,209.46 L256.84,209.13 L257.41,208.81 L257.98,208.49 L258.56,208.17 L259.13,207.85 L259.70,207.54 L260.28,207.23 L260.85,206.93 L261.42,206.62 L262.00,206.32 L262.57,206.02 L263.14,205.73 L263.72,205.44 L264.29,205.15 L264.86,204.86 L265.43,204.57 L266.01,204.29 L266.58,204.01 L267.15,203.73 L267.73,203.46 L268.30,203.19 L268.87,202.92 L269.45,202.65 L270.02,202.39 L270.59,202.13 L271.17,201.87 L271.74,201.61 L272.31,201.35 L272.88,201.10 L273.46,200.85 L274.03,200.60 L274.60,200.36 L275.18,200.11 L275.75,199.87 L276.32,199.63 L276.90,199.39 L277.47,199.16 L278.04,198.92 L278.62,198.69 L279.19,198.46 L279.76,198.24 L280.34,198.01 L280.91,197.79 L281.48,197.57 L282.05,197.35 L282.63,197.13 L283.20,196.92 L283.77,196.70 L284.35,196.49 L284.92,196.28 L285.49,196.07 L286.07,195.87 L286.64,195.66 L287.21,195.46 L287.79,195.26 L288.36,195.06 L288.93,194.87 L289.50,194.67 L290.08,194.48 L290.65,194.28 L291.22,194.09 L291.80,193.91 L292.37,193.72 L292.94,193.53 L293.52,193.35 L294.09,193.17 L294.66,192.99 L295.24,192.81 L295.81,192.63 L296.46,192.43 L297.12,192.23 L297.77,192.03 L298.43,191.83 L299.08,191.64 L299.74,191.45 L300.39,191.26 L301.05,191.07 L301.70,190.89 L302.36,190.70 L303.01,190.52 L303.67,190.34 L304.32,190.16 L304.98,189.98 L305.63,189.80 L306.29,189.63 L306.94,189.46 L307.60,189.29 L308.25,189.12 L308.91,188.95 L309.56,188.78 L310.22,188.62 L310.87,188.46 L311.53,188.29 L312.18,188.13 L312.84,187.98 L313.49,187.82 L314.15,187.66 L314.80,187.51 L315.46,187.36 L316.11,187.20 L316.77,187.05 L317.42,186.91 L318.08,186.76 L318.73,186.61 L319.39,186.47 L320.04,186.32 L320.70,186.18 L321.35,186.04 L322.01,185.90 L322.66,185.76 L323.32,185.63 L323.97,185.49 L324.63,185.36 L325.28,185.22 L325.94,185.09 L326.59,184.96 L327.25,184.83 L327.90,184.70 L328.56,184.58 L329.21,184.45 L329.87,184.32 L330.52,184.20 L331.18,184.08 L331.83,183.96 L332.49,183.83 L333.14,183.71 L333.80,183.60 L334.45,183.48 L335.11,183.36 L335.76,183.25 L336.42,183.13 L337.07,183.02 L337.73,182.91 L338.38,182.79 L339.04,182.68 L339.69,182.57 L340.35,182.47 L341.00,182.36 L341.66,182.25 L342.31,182.14 L342.97,182.04 L343.62,181.94 L344.28,181.83 L344.93,181.73 L345.59,181.63 L346.24,181.53 L346.90,181.43 L347.55,181.33 L348.21,181.23 L348.86,181.13 L349.52,181.04 L350.17,180.94 L350.83,180.85 L351.48,180.75 L352.14,180.66 L352.79,180.57 L353.45,180.48 L354.10,180.38 L354.76,180.29 L355.41,180.20 L356.07,180.12 L356.72,180.03 L357.38,179.94 L358.03,179.85 L358.69,179.77 L359.34,179.68 L360.00,179.60 L360.65,179.52 L361.31,179.43 L361.96,179.35 L362.62,179.27 L363.27,179.19 L363.93,179.11 L364.58,179.03 L365.24,178.95 L365.89,178.87 L366.55,178.79 L367.20,178.71 L367.86,178.64 L368.51,178.56 L369.17,178.49 L369.82,178.41 L370.48,178.34 L371.13,178.26 L371.79,178.19 L372.44,178.12 L373.10,178.05 L373.75,177.98 L374.41,177.91 L375.06,177.84 L375.72,177.77 L376.37,177.70 L377.03,177.63 L377.68,177.56 L378.34,177.49 L378.99,177.43 L379.65,177.36 L380.30,177.29 L380.96,177.23 L381.61,177.16 L382.27,177.10 L382.92,177.04 L383.58,176.97 L384.23,176.91 L384.89,176.85 L385.54,176.79 L386.20,176.73 L386.85,176.66 L387.51,176.60 L388.16,176.54 L388.82,176.48 L389.47,176.43 L390.13,176.37 L390.78,176.31 L391.44,176.25 L392.09,176.19 L392.75,176.14 L393.40,176.08 L394.06,176.02 L394.71,175.97 L395.37,175.91 L396.02,175.86 L396.68,175.80 L397.33,175.75 L397.99,175.70 L398.64,175.64 L399.30,175.59 L399.95,175.54 L400.60,175.49 L401.26,175.44 L401.91,175.38 L402.57,175.33 L403.22,175.28 L403.88,175.23 L404.53,175.18 L405.19,175.13 L405.84,175.09 L406.50,175.04 L407.15,174.99 L407.81,174.94 L408.46,174.89 L409.12,174.85 L409.77,174.80 L410.43,174.75 L411.08,174.71 L411.74,174.66 L412.39,174.62 L413.05,174.57 L413.70,174.53 L414.36,174.48 L415.01,174.44 L415.67,174.39 L416.32,174.35 L416.98,174.31 L417.63,174.26 L418.29,174.22 L418.94,174.18 L419.60,174.14 L420.25,174.10 L420.91,174.05 L421.56,174.01 L422.22,173.97 L422.87,173.93 L423.53,173.89 L424.18,173.85 L424.84,173.81 L425.49,173.77 L426.15,173.73 L426.80,173.69 L427.46,173.66 L428.11,173.62 L428.77,173.58 L429.42,173.54 L430.08,173.50 L430.73,173.47 L431.39,173.43 L432.04,173.39 L432.70,173.36 L433.35,173.32 L434.01,173.29 L434.66,173.25 L435.32,173.21 L435.97,173.18 L436.63,173.14 L437.28,173.11 L437.94,173.08 L438.59,173.04 L439.25,173.01 L439.90,172.97 L440.56,172.94 L441.21,172.91 L441.87,172.87 L442.52,172.84 L443.18,172.81 L443.83,172.78 L444.49,172.74 L445.14,172.71 L445.80,172.68 L446.45,172.65 L447.11,172.62 L447.76,172.59 L448.42,172.56 L449.07,172.53 L449.73,172.49 L450.38,172.46 L451.04,172.43 L451.69,172.40 L452.35,172.38 L453.00,172.35 L453.66,172.32 L454.31,172.29 L454.97,172.26 L455.62,172.23 L456.28,172.20 L456.93,172.17 L457.59,172.15 L458.24,172.12 L458.90,172.09 L459.55,172.06 L460.21,172.04 L460.86,172.01 L461.52,171.98 L462.17,171.95 L462.83,171.93 L463.48,171.90 L464.14,171.87 L464.79,171.85 L465.45,171.82 L466.10,171.80 L466.76,171.77 L467.41,171.75 L468.07,171.72 L468.72,171.70 L469.38,171.67 L470.03,171.65 L470.69,171.62 L471.34,171.60 L472.00,171.57 L472.65,171.55 L473.31,171.53 L473.96,171.50 L474.62,171.48 L475.27,171.45 L475.93,171.43 L476.58,171.41 L477.24,171.39 L477.89,171.36 L478.55,171.34 L479.20,171.32 L479.86,171.30 L480.51,171.27 L481.17,171.25 L481.82,171.23 L482.48,171.21 L483.13,171.19 L483.79,171.16 L484.44,171.14 L485.10,171.12 L485.75,171.10 L486.41,171.08 L487.06,171.06 L487.72,171.04 L488.37,171.02 L489.03,171.00 L489.68,170.98 L490.34,170.96 L490.99,170.94 L491.65,170.92 L492.30,170.90 L492.96,170.88 L493.61,170.86 L494.27,170.84 L494.92,170.82 L495.58,170.80 L496.23,170.78 L496.89,170.76 L497.54,170.74 L498.20,170.72 L498.85,170.71 L499.51,170.69 L500.16,170.67 L500.82,170.65 L501.47,170.63 L502.13,170.61 L502.78,170.60 L503.44,170.58 L504.09,170.56 L504.75,170.54 L505.40,170.53 L506.06,170.51 L506.71,170.49 L507.37,170.48 L508.02,170.46 L508.68,170.44 L509.33,170.42 L509.99,170.41 L510.64,170.39 L511.30,170.38 L511.95,170.36 L512.61,170.34 L513.26,170.33 L513.92,170.31 L514.57,170.29 L515.23,170.28 L515.88,170.26 L516.54,170.25 L517.19,170.23 L517.85,170.22 L518.50,170.20 L519.16,170.19 L519.81,170.17 L520.47,170.16 L521.12,170.14 L521.78,170.13 L522.43,170.11 L523.09,170.10 L523.74,170.08 L524.40,170.07 L525.05,170.05 L525.71,170.04 L526.36,170.03 L527.02,170.01 L527.67,170.00 L528.33,169.98 L528.98,169.97 L529.64,169.96 L530.29,169.94 L530.95,169.93 L531.60,169.92 L532.26,169.90 L532.91,169.89 L533.57,169.88 L534.22,169.86 L534.88,169.85 L535.53,169.84 L536.18,169.82 L536.84,169.81 L537.49,169.80 L538.15,169.79 L538.80,169.77 L539.46,169.76 L540.11,169.75 L540.77,169.74 L541.42,169.72 L542.08,169.71 L542.73,169.70 L543.39,169.69 L544.04,169.68 L544.70,169.66 L545.35,169.65 L546.01,169.64 L546.66,169.63 L547.32,169.62 L547.97,169.61 L548.63,169.59 L549.28,169.58 L549.94,169.57 L550.59,169.56 L551.25,169.55 L551.90,169.54 L552.56,169.53 L553.21,169.52 L553.87,169.51 L554.52,169.49 L555.18,169.48 L555.83,169.47 L556.49,169.46 L557.14,169.45 L557.80,169.44 L558.45,169.43 L559.11,169.42 L559.76,169.41 L560.42,169.40 L561.07,169.39 L561.73,169.38 L562.38,169.37 L563.04,169.36 L563.69,169.35 L564.35,169.34 L565.00,169.33 L565.66,169.32 L566.31,169.31 L566.97,169.30 L567.62,169.29 L568.28,169.28 L568.93,169.28 L569.59,169.27 L570.24,169.26 L570.90,169.25 L571.55,169.24 L572.21,169.23 L572.86,169.22 L573.52,169.21 L574.17,169.20 L574.83,169.19 L575.48,169.19 L576.14,169.18 L576.79,169.17 L577.45,169.16 L578.10,169.15 L578.76,169.14 L579.41,169.13 L580.07,169.13 L580.72,169.12 L581.38,169.11 L582.03,169.10 L582.69,169.09 L583.34,169.09 L584.00,169.08 L584.65,169.07 L585.31,169.06 L585.96,169.05 L586.62,169.05 L586.70,169.05" stroke="#0000ff" stroke-dasharray="4.4 3.100 11.1 3.100"/>
<path d="M143.58,5.32 L143.61,5.98 L143.69,7.76 L143.77,9.52 L143.85,11.27 L143.94,13.01 L144.02,14.74 L144.10,16.45 L144.18,18.15 L144.26,19.84 L144.35,21.51 L144.43,23.17 L144.51,24.82 L144.59,26.46 L144.67,28.08 L144.76,29.69 L144.84,31.29 L144.92,32.88 L145.00,34.45 L145.08,36.02 L145.16,37.57 L145.25,39.11 L145.33,40.64 L145.41,42.16 L145.49,43.66 L145.57,45.16 L145.66,46.64 L145.74,48.11 L145.82,49.57 L145.90,51.02 L145.98,52.46 L146.07,53.89 L146.15,55.30 L146.23,56.71 L146.31,58.11 L146.39,59.49 L146.47,60.87 L146.56,62.23 L146.64,63.59 L146.72,64.93 L146.80,66.27 L146.88,67.59 L146.97,68.90 L147.05,70.21 L147.13,71.50 L147.21,72.79 L147.29,74.06 L147.37,75.33 L147.46,76.58 L147.54,77.83 L147.62,79.07 L147.70,80.30 L147.78,81.52 L147.87,82.72 L147.95,83.93 L148.03,85.12 L148.11,86.30 L148.19,87.47 L148.28,88.64 L148.36,89.79 L148.44,90.94 L148.52,92.08 L148.60,93.21 L148.68,94.33 L148.77,95.45 L148.85,96.55 L148.93,97.65 L149.01,98.74 L149.09,99.82 L149.18,100.89 L149.26,101.95 L149.34,103.01 L149.42,104.06 L149.50,105.10 L149.59,106.13 L149.67,107.16 L149.75,108.17 L149.83,109.18 L149.91,110.18 L149.99,111.18 L150.08,112.17 L150.16,113.15 L150.24,114.12 L150.32,115.08 L150.40,116.04 L150.49,116.99 L150.57,117.93 L150.65,118.87 L150.73,119.80 L150.81,120.72 L150.90,121.64 L150.98,122.55 L151.06,123.45 L151.14,124.34 L151.22,125.23 L151.30,126.11 L151.39,126.99 L151.47,127.85 L151.55,128.72 L151.63,129.57 L151.71,130.42 L151.80,131.26 L151.88,132.10 L151.96,132.93 L152.04,133.75 L152.12,134.57 L152.21,135.38 L152.29,136.18 L152.37,136.98 L152.45,137.78 L152.53,138.56 L152.61,139.34 L152.70,140.12 L152.78,140.89 L152.86,141.65 L152.94,142.41 L153.02,143.16 L153.11,143.91 L153.19,144.65 L153.27,145.38 L153.35,146.11 L153.43,146.83 L153.52,147.55 L153.60,148.27 L153.68,148.97 L153.76,149.68 L153.84,150.37 L153.92,151.06 L154.01,151.75 L154.09,152.43 L154.17,153.11 L154.25,153.78 L154.33,154.44 L154.42,155.10 L154.50,155.76 L154.58,156.41 L154.66,157.06 L154.74,157.70 L154.83,158.33 L154.91,158.96 L154.99,159.59 L155.07,160.21 L155.15,160.83 L155.23,161.44 L155.32,162.05 L155.40,162.65 L155.48,163.25 L155.64,164.43 L155.81,165.59 L155.97,166.74 L156.14,167.87 L156.30,168.98 L156.46,170.08 L156.63,171.16 L156.79,172.22 L156.95,173.26 L157.12,174.29 L157.28,175.30 L157.45,176.30 L157.61,177.28 L157.77,178.25 L157.94,179.20 L158.10,180.14 L158.26,181.06 L158.43,181.97 L158.59,182.87 L158.76,183.75 L158.92,184.61 L159.08,185.47 L159.25,186.31 L159.41,187.13 L159.57,187.94 L159.74,188.75 L159.90,189.53 L160.07,190.31 L160.23,191.07 L160.39,191.82 L160.56,192.56 L160.72,193.29 L160.88,194.01 L161.05,194.71 L161.21,195.40 L161.38,196.08 L161.54,196.76 L161.70,197.42 L161.87,198.07 L162.03,198.70 L162.19,199.33 L162.36,199.95 L162.52,200.56 L162.69,201.16 L162.85,201.75 L163.01,202.32 L163.26,203.17 L163.50,204.00 L163.75,204.81 L163.99,205.60 L164.24,206.37 L164.49,207.12 L164.73,207.85 L164.98,208.56 L165.22,209.25 L165.47,209.93 L165.71,210.59 L165.96,211.23 L166.21,211.85 L166.45,212.46 L166.70,213.05 L166.94,213.63 L167.19,214.19 L167.52,214.91 L167.84,215.61 L168.17,216.28 L168.50,216.93 L168.83,217.56 L169.15,218.16 L169.48,218.73 L169.81,219.29 L170.14,219.82 L170.46,220.34 L170.87,220.95 L171.28,221.53 L171.69,222.08 L172.10,222.61 L172.51,223.10 L172.92,223.57 L173.33,224.01 L173.82,224.51 L174.31,224.97 L174.80,225.40 L175.29,225.80 L175.78,226.17 L176.36,226.56 L176.93,226.92 L177.50,227.23 L178.08,227.52 L178.65,227.77 L179.22,227.99 L179.80,228.18 L180.45,228.36 L181.11,228.50 L181.76,228.62 L182.42,228.70 L183.07,228.75 L183.73,228.78 L184.38,228.77 L185.04,228.75 L185.69,228.70 L186.35,228.62 L187.00,228.53 L187.66,228.42 L188.31,228.28 L188.97,228.13 L189.62,227.97 L190.28,227.79 L190.93,227.59 L191.50,227.41 L192.08,227.22 L192.65,227.02 L193.22,226.81 L193.80,226.59 L194.37,226.36 L194.94,226.13 L195.52,225.89 L196.09,225.64 L196.66,225.38 L197.23,225.12 L197.81,224.86 L198.38,224.59 L198.95,224.32 L199.53,224.04 L200.10,223.75 L200.67,223.47 L201.25,223.18 L201.82,222.88 L202.39,222.59 L202.97,222.29 L203.54,221.99 L204.11,221.68 L204.69,221.37 L205.26,221.07 L205.83,220.76 L206.40,220.44 L206.98,220.13 L207.55,219.82 L208.12,219.50 L208.70,219.19 L209.27,218.87 L209.84,218.55 L210.42,218.23 L210.99,217.92 L211.56,217.60 L212.14,217.28 L212.71,216.96 L213.28,216.64 L213.86,216.32 L214.43,216.01 L215.00,215.69 L215.57,215.37 L216.15,215.05 L216.72,214.74 L217.29,214.42 L217.87,214.11 L218.44,213.79 L219.01,213.48 L219.59,213.17 L220.16,212.86 L220.73,212.55 L221.31,212.24 L221.88,211.93 L222.45,211.63 L223.02,211.32 L223.60,211.02 L224.17,210.72 L224.74,210.41 L225.32,210.12 L225.89,209.82 L226.46,209.52 L227.04,209.23 L227.61,208.93 L228.18,208.64 L228.76,208.35 L229.33,208.06 L229.90,207.77 L230.48,207.49 L231.05,207.20 L231.62,206.92 L232.19,206.64 L232.77,206.36 L233.34,206.08 L233.91,205.81 L234.49,205.53 L235.06,205.26 L235.63,204.99 L236.21,204.72 L236.78,204.45 L237.35,204.19 L237.93,203.92 L238.50,203.66 L239.07,203.40 L239.64,203.14 L240.22,202.89 L240.79,202.63 L241.36,202.38 L241.94,202.13 L242.51,201.88 L243.08,201.63 L243.66,201.38 L244.23,201.14 L244.80,200.89 L245.38,200.65 L245.95,200.41 L246.52,200.18 L247.10,199.94 L247.67,199.71 L248.24,199.47 L248.81,199.24 L249.39,199.01 L249.96,198.79 L250.53,198.56 L251.11,198.34 L251.68,198.12 L252.25,197.89 L252.83,197.68 L253.40,197.46 L253.97,197.24 L254.55,197.03 L255.12,196.82 L255.69,196.61 L256.26,196.40 L256.84,196.19 L257.41,195.98 L257.98,195.78 L258.56,195.58 L259.13,195.37 L259.70,195.17 L260.28,194.98 L260.85,194.78 L261.42,194.58 L262.00,194.39 L262.57,194.20 L263.14,194.01 L263.72,193.82 L264.29,193.63 L264.86,193.45 L265.43,193.26 L266.01,193.08 L266.58,192.90 L267.15,192.72 L267.73,192.54 L268.38,192.33 L269.04,192.13 L269.69,191.93 L270.35,191.74 L271.00,191.54 L271.66,191.35 L272.31,191.15 L272.97,190.96 L273.62,190.77 L274.28,190.59 L274.93,190.40 L275.59,190.22 L276.24,190.04 L276.90,189.86 L277.55,189.68 L278.21,189.50 L278.86,189.32 L279.52,189.15 L280.17,188.98 L280.83,188.81 L281.48,188.64 L282.14,188.47 L282.79,188.30 L283.45,188.14 L284.10,187.98 L284.76,187.81 L285.41,187.65 L286.07,187.49 L286.72,187.34 L287.38,187.18 L288.03,187.03 L288.69,186.87 L289.34,186.72 L290.00,186.57 L290.65,186.42 L291.31,186.27 L291.96,186.13 L292.62,185.98 L293.27,185.84 L293.93,185.69 L294.58,185.55 L295.24,185.41 L295.89,185.27 L296.55,185.14 L297.20,185.00 L297.86,184.86 L298.51,184.73 L299.17,184.60 L299.82,184.47 L300.48,184.34 L301.13,184.21 L301.79,184.08 L302.44,183.95 L303.10,183.82 L303.75,183.70 L304.41,183.58 L305.06,183.45 L305.72,183.33 L306.37,183.21 L307.03,183.09 L307.68,182.97 L308.34,182.86 L308.99,182.74 L309.65,182.62 L310.30,182.51 L310.96,182.40 L311.61,182.28 L312.27,182.17 L312.92,182.06 L313.58,181.95 L314.23,181.84 L314.89,181.74 L315.54,181.63 L316.19,181.52 L316.85,181.42 L317.50,181.31 L318.16,181.21 L318.81,181.11 L319.47,181.01 L320.12,180.91 L320.78,180.81 L321.43,180.71 L322.09,180.61 L322.74,180.51 L323.40,180.42 L324.05,180.32 L324.71,180.23 L325.36,180.13 L326.02,180.04 L326.67,179.95 L327.33,179.86 L327.98,179.77 L328.64,179.68 L329.29,179.59 L329.95,179.50 L330.60,179.41 L331.26,179.32 L331.91,179.24 L332.57,179.15 L333.22,179.07 L333.88,178.98 L334.53,178.90 L335.19,178.82 L335.84,178.74 L336.50,178.65 L337.15,178.57 L337.81,178.49 L338.46,178.41 L339.12,178.34 L339.77,178.26 L340.43,178.18 L341.08,178.10 L341.74,178.03 L342.39,177.95 L343.05,177.88 L343.70,177.80 L344.36,177.73 L345.01,177.66 L345.67,177.58 L346.32,177.51 L346.98,177.44 L347.63,177.37 L348.29,177.30 L348.94,177.23 L349.60,177.16 L350.25,177.09 L350.91,177.03 L351.56,176.96 L352.22,176.89 L352.87,176.82 L353.53,176.76 L354.18,176.69 L354.84,176.63 L355.49,176.57 L356.15,176.50 L356.80,176.44 L357.46,176.38 L358.11,176.31 L358.77,176.25 L359.42,176.19 L360.08,176.13 L360.73,176.07 L361.39,176.01 L362.04,175.95 L362.70,175.89 L363.35,175.83 L364.01,175.78 L364.66,175.72 L365.32,175.66 L365.97,175.60 L366.63,175.55 L367.28,175.49 L367.94,175.44 L368.59,175.38 L369.25,175.33 L369.90,175.27 L370.56,175.22 L371.21,175.17 L371.87,175.12 L372.52,175.06 L373.18,175.01 L373.83,174.96 L374.49,174.91 L375.14,174.86 L375.80,174.81 L376.45,174.76 L377.11,174.71 L377.76,174.66 L378.42,174.61 L379.07,174.56 L379.73,174.51 L380.38,174.47 L381.04,174.42 L381.69,174.37 L382.35,174.32 L383.00,174.28 L383.66,174.23 L384.31,174.19 L384.97,174.14 L385.62,174.10 L386.28,174.05 L386.93,174.01 L387.59,173.96 L388.24,173.92 L388.90,173.88 L389.55,173.83 L390.21,173.79 L390.86,173.75 L391.52,173.71 L392.17,173.67 L392.83,173.62 L393.48,173.58 L394.14,173.54 L394.79,173.50 L395.45,173.46 L396.10,173.42 L396.76,173.38 L397.41,173.34 L398.07,173.30 L398.72,173.27 L399.38,173.23 L400.03,173.19 L400.69,173.15 L401.34,173.11 L402.00,173.08 L402.65,173.04 L403.31,173.00 L403.96,172.97 L404.62,172.93 L405.27,172.89 L405.93,172.86 L406.58,172.82 L407.24,172.79 L407.89,172.75 L408.55,172.72 L409.20,172.68 L409.86,172.65 L410.51,172.62 L411.17,172.58 L411.82,172.55 L412.48,172.52 L413.13,172.48 L413.79,172.45 L414.44,172.42 L415.10,172.39 L415.75,172.35 L416.41,172.32 L417.06,172.29 L417.72,172.26 L418.37,172.23 L419.03,172.20 L419.68,172.17 L420.34,172.14 L420.99,172.11 L421.65,172.08 L422.30,172.05 L422.96,172.02 L423.61,171.99 L424.27,171.96 L424.92,171.93 L425.58,171.90 L426.23,171.87 L426.89,171.84 L427.54,171.81 L428.20,171.79 L428.85,171.76 L429.51,171.73 L430.16,171.70 L430.82,171.68 L431.47,171.65 L432.13,171.62 L432.78,171.60 L433.44,171.57 L434.09,171.54 L434.75,171.52 L435.40,171.49 L436.06,171.47 L436.71,171.44 L437.37,171.41 L438.02,171.39 L438.68,171.36 L439.33,171.34 L439.99,171.32 L440.64,171.29 L441.30,171.27 L441.95,171.24 L442.61,171.22 L443.26,171.19 L443.92,171.17 L444.57,171.15 L445.23,171.12 L445.88,171.10 L446.54,171.08 L447.19,171.05 L447.85,171.03 L448.50,171.01 L449.16,170.99 L449.81,170.96 L450.47,170.94 L451.12,170.92 L451.77,170.90 L452.43,170.88 L453.08,170.86 L453.74,170.83 L454.39,170.81 L455.05,170.79 L455.70,170.77 L456.36,170.75 L457.01,170.73 L457.67,170.71 L458.32,170.69 L458.98,170.67 L459.63,170.65 L460.29,170.63 L460.94,170.61 L461.60,170.59 L462.25,170.57 L462.91,170.55 L463.56,170.53 L464.22,170.51 L464.87,170.49 L465.53,170.47 L466.18,170.46 L466.84,170.44 L467.49,170.42 L468.15,170.40 L468.80,170.38 L469.46,170.36 L470.11,170.35 L470.77,170.33 L471.42,170.31 L472.08,170.29 L472.73,170.27 L473.39,170.26 L474.04,170.24 L474.70,170.22 L475.35,170.21 L476.01,170.19 L476.66,170.17 L477.32,170.15 L477.97,170.14 L478.63,170.12 L479.28,170.11 L479.94,170.09 L480.59,170.07 L481.25,170.06 L481.90,170.04 L482.56,170.02 L483.21,170.01 L483.87,169.99 L484.52,169.98 L485.18,169.96 L485.83,169.95 L486.49,169.93 L487.14,169.92 L487.80,169.90 L488.45,169.89 L489.11,169.87 L489.76,169.86 L490.42,169.84 L491.07,169.83 L491.73,169.81 L492.38,169.80 L493.04,169.78 L493.69,169.77 L494.35,169.76 L495.00,169.74 L495.66,169.73 L496.31,169.72 L496.97,169.70 L497.62,169.69 L498.28,169.67 L498.93,169.66 L499.59,169.65 L500.24,169.63 L500.90,169.62 L501.55,169.61 L502.21,169.60 L502.86,169.58 L503.52,169.57 L504.17,169.56 L504.83,169.54 L505.48,169.53 L506.14,169.52 L506.79,169.51 L507.45,169.49 L508.10,169.48 L508.76,169.47 L509.41,169.46 L510.07,169.45 L510.72,169.43 L511.38,169.42 L512.03,169.41 L512.69,169.40 L513.34,169.39 L514.00,169.38 L514.65,169.36 L515.31,169.35 L515.96,169.34 L516.62,169.33 L517.27,169.32 L517.93,169.31 L518.58,169.30 L519.24,169.29 L519.89,169.28 L520.55,169.27 L521.20,169.25 L521.86,169.24 L522.51,169.23 L523.17,169.22 L523.82,169.21 L524.48,169.20 L525.13,169.19 L525.79,169.18 L526.44,169.17 L527.10,169.16 L527.75,169.15 L528.41,169.14 L529.06,169.13 L529.72,169.12 L530.37,169.11 L531.03,169.10 L531.68,169.09 L532.34,169.08 L532.99,169.07 L533.65,169.07 L534.30,169.06 L534.96,169.05 L535.61,169.04 L536.27,169.03 L536.92,169.02 L537.58,169.01 L538.23,169.00 L538.89,168.99 L539.54,168.98 L540.20,168.98 L540.85,168.97 L541.51,168.96 L542.16,168.95 L542.82,168.94 L543.47,168.93 L544.13,168.92 L544.78,168.92 L545.44,168.91 L546.09,168.90 L546.75,168.89 L547.40,168.88 L548.06,168.88 L548.71,168.87 L549.37,168.86 L550.02,168.85 L550.68,168.84 L551.33,168.84 L551.99,168.83 L552.64,168.82 L553.30,168.81 L553.95,168.81 L554.61,168.80 L555.26,168.79 L555.92,168.78 L556.57,168.78 L557.23,168.77 L557.88,168.76 L558.54,168.76 L559.19,168.75 L559.85,168.74 L560.50,168.73 L561.16,168.73 L561.81,168.72 L562.47,168.71 L563.12,168.71 L563.78,168.70 L564.43,168.69 L565.09,168.69 L565.74,168.68 L566.40,168.67 L567.05,168.67 L567.71,168.66 L568.36,168.65 L569.02,168.65 L569.67,168.64 L570.33,168.64 L570.98,168.63 L571.64,168.62 L572.29,168.62 L572.95,168.61 L573.60,168.61 L574.26,168.60 L574.91,168.59 L575.57,168.59 L576.22,168.58 L576.88,168.58 L577.53,168.57 L578.19,168.56 L578.84,168.56 L579.50,168.55 L580.15,168.55 L580.81,168.54 L581.46,168.54 L582.12,168.53 L582.77,168.53 L583.43,168.52 L584.08,168.52 L584.74,168.51 L585.39,168.51 L586.05,168.50 L586.70,168.50" stroke="#0000ff" stroke-dasharray="4.4 3.075 11.1 3.075"/>
</g>
<g fill="none" stroke-width="3.5">
<path d="M439,52.95H504.3" stroke="#000"/>
<path d="M439,84.95H501.4" stroke="#ff0000" stroke-dasharray="4.9 3.25 10.1 3.25"/>
<path d="M439,116.95H501.4" stroke="#0000ff" stroke-dasharray="4.9 3.25 10.1 3.25"/>
</g>
<g><text x="69.70" y="348.7" text-anchor="middle">0.0</text><text x="173.10" y="348.7" text-anchor="middle">0.2</text><text x="276.50" y="348.7" text-anchor="middle">0.4</text><text x="379.90" y="348.7" text-anchor="middle">0.6</text><text x="483.30" y="348.7" text-anchor="middle">0.8</text><text x="586.70" y="348.7" text-anchor="middle">1.0</text><text x="64.5" y="300.54" text-anchor="end"><tspan font-size="16.3" dy="1.5" stroke="#000" stroke-width="0.5">−</tspan><tspan dx="1.9" dy="-1.5">40</tspan></text><text x="64.5" y="236.62" text-anchor="end"><tspan font-size="16.3" dy="1.5" stroke="#000" stroke-width="0.5">−</tspan><tspan dx="1.9" dy="-1.5">20</tspan></text><text x="64.5" y="172.70" text-anchor="end">0</text><text x="64.5" y="108.78" text-anchor="end">20</text><text x="64.5" y="44.86" text-anchor="end">40</text></g>
<text x="514.5" y="58.7">T<tspan dx="-0.4">=</tspan><tspan class="i" dx="1.2">T</tspan><tspan class="i" font-size="14.6" dy="3.5" dx="0.2">c</tspan></text>
<text x="514.5" y="90.7">T<tspan dx="-0.4">&lt;</tspan><tspan class="i" dx="1.2">T</tspan><tspan class="i" font-size="14.6" dy="3.5" dx="0.2">c</tspan></text>
<text x="514.5" y="122.7">T<tspan dx="-0.4">&gt;</tspan><tspan class="i" dx="1.2">T</tspan><tspan class="i" font-size="14.6" dy="3.5" dx="0.2">c</tspan></text>
<g clip-path="url(#pc)"><text class="i" transform="translate(329.2,378.5) scale(1.08,1)" x="0" y="0" text-anchor="middle">&#968;</text></g>
<g transform="translate(21.7,176.8) rotate(-90)"><text class="i" x="0" y="0">Q<tspan font-size="15" dy="-8.2" dx="-0.6" style="font-style:normal">2</tspan></text></g>
</svg>
</body></html>
